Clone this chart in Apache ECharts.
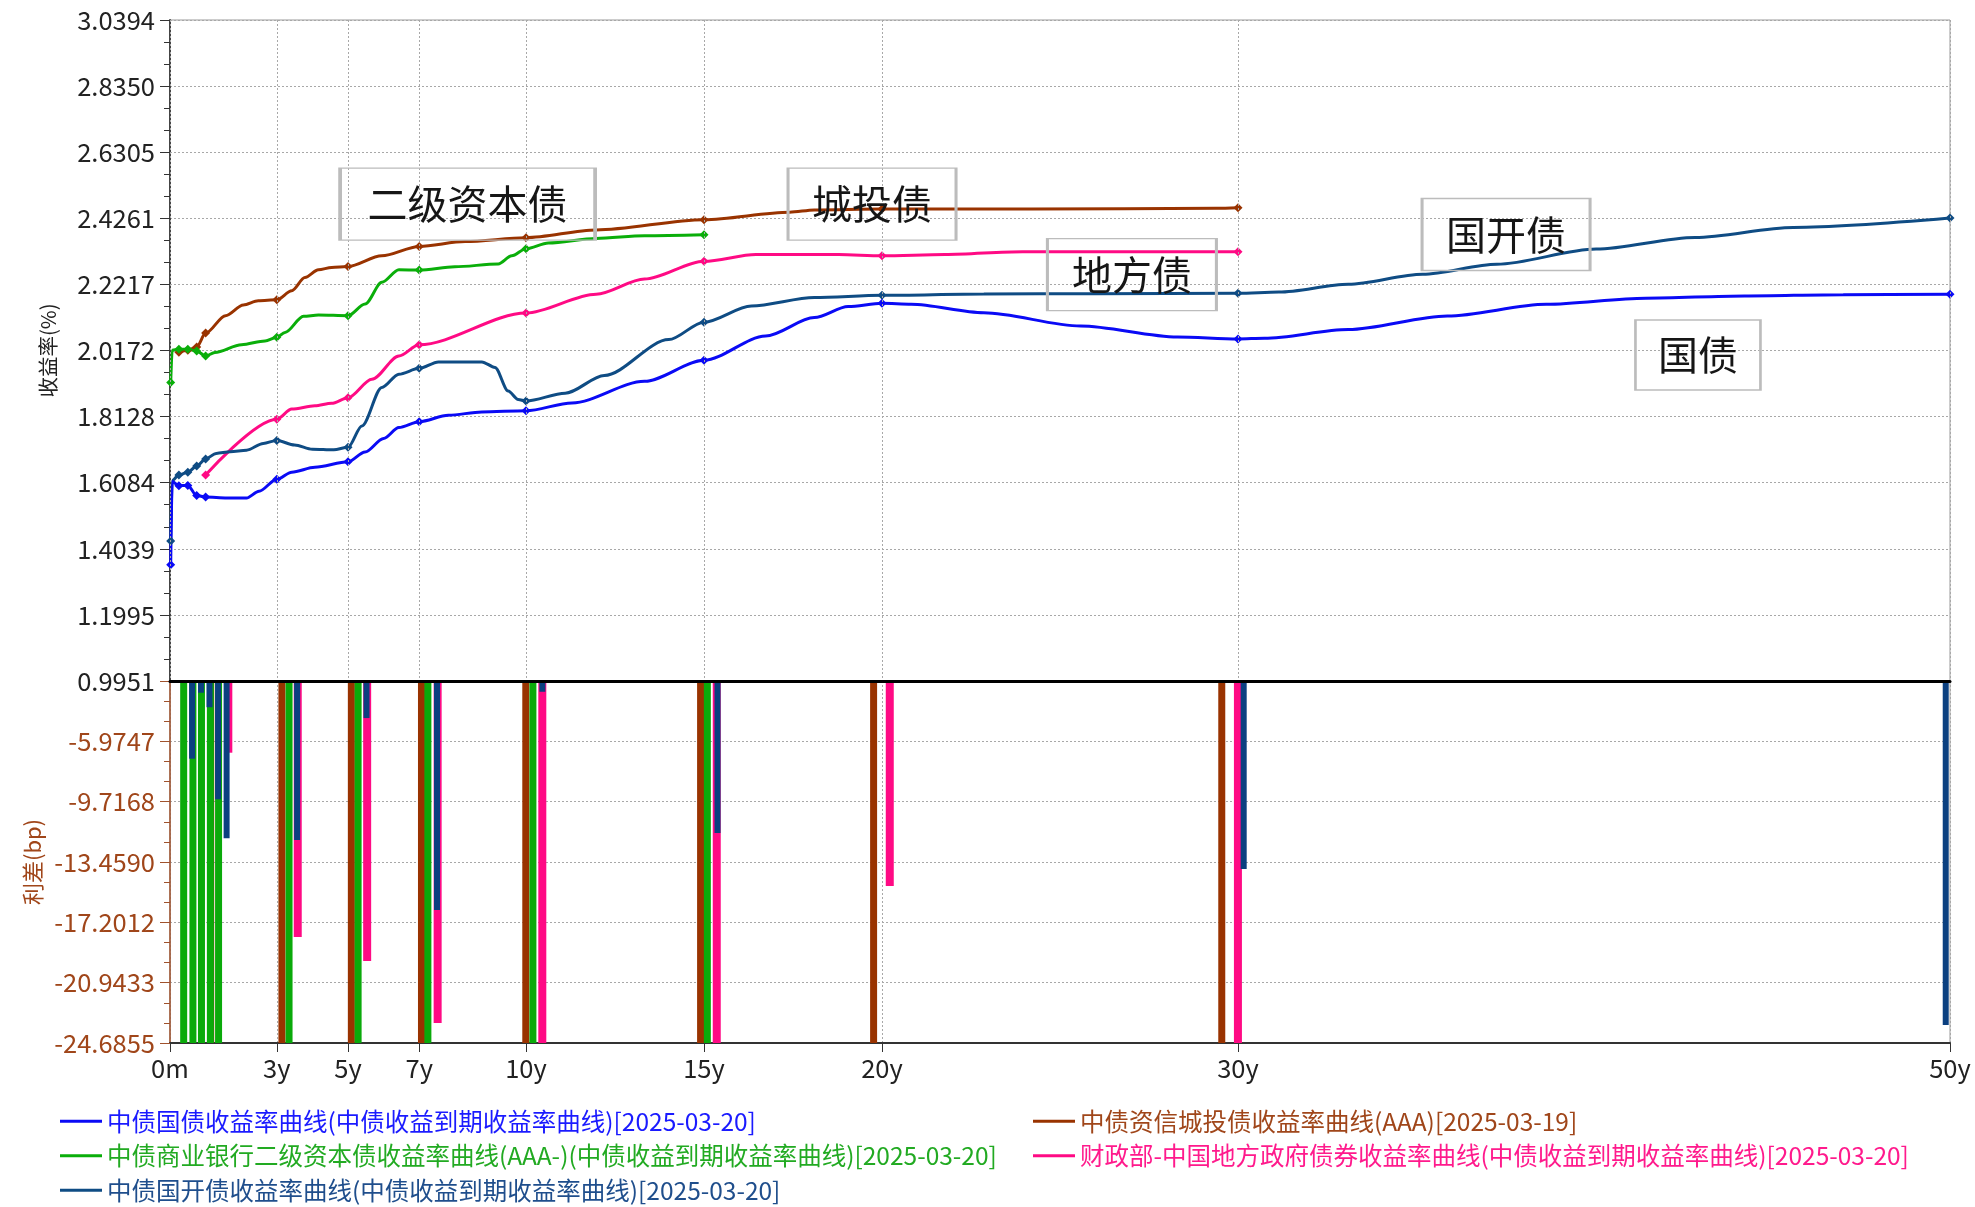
<!DOCTYPE html>
<html>
<head>
<meta charset="utf-8">
<title>收益率曲线与利差</title>
<script src="https://cdn.jsdelivr.net/npm/echarts@6/dist/echarts.min.js"></script>
<style>
  html, body { margin: 0; padding: 0; background: #fff; }
  #main { width: 1975px; height: 1207px; }
</style>
</head>
<body>
<div id="main"></div>
<script>
// 期限轴
var xTickValues = [0, 3, 5, 7, 10, 15, 20, 30, 50];
var xTickLabels = ["0m", "3y", "5y", "7y", "10y", "15y", "20y", "30y", "50y"];
// 收益率轴、利差轴刻度
var yieldTicks = [0.9951, 1.1995, 1.4039, 1.6084, 1.8128, 2.0172, 2.2217, 2.4261, 2.6305, 2.8350, 3.0394];
var spreadTicks = [-24.6855, -20.9433, -17.2012, -13.4590, -9.7168, -5.9747, -2.2326];
// 带标记点的关键期限
var keyTenors = [0.02, 0.25, 0.5, 0.75, 1, 3, 5, 7, 10, 15, 20, 30, 50];

var seriesNames = [
  "中债国债收益率曲线(中债收益到期收益率曲线)[2025-03-20]",
  "中债商业银行二级资本债收益率曲线(AAA-)(中债收益到期收益率曲线)[2025-03-20]",
  "中债国开债收益率曲线(中债收益到期收益率曲线)[2025-03-20]",
  "中债资信城投债收益率曲线(AAA)[2025-03-19]",
  "财政部-中国地方政府债券收益率曲线(中债收益到期收益率曲线)[2025-03-20]"
];

// 收益率曲线 [期限(年), 收益率]
var govYield = [[0.02, 1.355], [0.06, 1.612], [0.25, 1.599], [0.5, 1.600], [0.75, 1.569], [1, 1.564],
  [1.6, 1.561], [2.15, 1.561], [2.5, 1.582], [3, 1.619], [3.42, 1.641], [4.07, 1.656], [5, 1.673],
  [5.48, 1.703], [6.0, 1.745], [6.43, 1.779], [7, 1.797], [7.82, 1.817], [8.76, 1.827], [10, 1.831],
  [11.29, 1.855], [13.33, 1.922], [15, 1.987], [16.73, 2.062], [18.1, 2.119],
  [19.05, 2.153], [20, 2.163], [20.82, 2.160], [22.86, 2.134], [25.58, 2.093], [28.3, 2.059],
  [30, 2.053], [30.74, 2.055], [33.1, 2.082], [35.88, 2.124], [38.66, 2.160], [41.45, 2.179],
  [44.23, 2.186], [47.0, 2.190], [50, 2.191]];
var tier2Yield = [[0.02, 1.918], [0.06, 2.018], [0.25, 2.021], [0.5, 2.021], [0.75, 2.016], [1, 2.000],
  [1.26, 2.011], [2.01, 2.035], [2.67, 2.047], [3, 2.058], [3.23, 2.073], [3.75, 2.123], [4.17, 2.127],
  [5, 2.125], [5.48, 2.161], [5.95, 2.228], [6.43, 2.267], [7, 2.266], [8.0, 2.276], [9.22, 2.285],
  [9.6, 2.310], [10, 2.332], [10.63, 2.350], [11.97, 2.364], [13.33, 2.372], [15, 2.375]];
var cdbYield = [[0.02, 1.428], [0.06, 1.615], [0.25, 1.632], [0.5, 1.641], [0.75, 1.660], [1, 1.682],
  [1.3, 1.699], [1.69, 1.704], [2.15, 1.709], [2.62, 1.730], [3, 1.739], [3.5, 1.725], [4.0, 1.712],
  [4.6, 1.710], [5, 1.718], [5.39, 1.784], [5.95, 1.903], [6.43, 1.944], [7, 1.962], [7.54, 1.982],
  [8.76, 1.982], [9.13, 1.965], [9.5, 1.892], [9.78, 1.866], [10, 1.861], [11.1, 1.885], [12.2, 1.940],
  [14.01, 2.051], [15, 2.105], [16.33, 2.155], [18.1, 2.181], [20, 2.188],
  [22.86, 2.192], [26, 2.193], [30, 2.194], [31.15, 2.198], [33.1, 2.222], [35.19, 2.253],
  [37.27, 2.284], [40.06, 2.331], [42.84, 2.367], [45.6, 2.398], [50, 2.427]];
var cityYield = [[0.25, 2.012], [0.5, 2.018], [0.75, 2.028], [1, 2.071], [1.56, 2.125], [2.06, 2.158],
  [2.48, 2.171], [3, 2.174], [3.42, 2.202], [3.79, 2.243], [4.17, 2.267], [4.54, 2.274], [5, 2.277],
  [5.95, 2.310], [7, 2.339], [8.29, 2.354], [10, 2.366], [11.97, 2.390], [15, 2.422], [17.41, 2.445],
  [18.1, 2.452], [20, 2.455], [24.2, 2.455], [29.4, 2.457], [30, 2.459]];
var localYield = [[1, 1.632], [3, 1.805], [3.42, 1.836], [4.07, 1.846], [4.54, 1.854], [5, 1.871],
  [5.67, 1.928], [6.43, 2.000], [7, 2.035], [10, 2.133], [11.97, 2.191], [13.33, 2.238], [15, 2.293],
  [16.46, 2.314], [18.78, 2.314], [20, 2.310], [21.77, 2.314], [23.95, 2.323], [30, 2.323]];

// 利差柱 [期限(年), bp]
var cityBars = [[1.13, -28], [3.13, -28], [5.08, -28], [7.05, -28], [9.98, -28], [14.89, -28], [19.75, -28], [29.53, -28]];
var tier2Bars = [[0.37, -28], [0.63, -28], [0.87, -28], [1.12, -28], [1.35, -28], [3.33, -28], [5.27, -28],
  [7.23, -28], [10.18, -28], [15.08, -28]];
var localBars = [[1.61, -6.68], [3.56, -18.11], [5.51, -19.60], [7.49, -23.44], [10.43, -28], [15.33, -28],
  [20.19, -14.95], [29.97, -28]];
var cdbBars = [[0.62, -7.05], [0.87, -2.96], [1.11, -3.86], [1.35, -9.57], [1.59, -11.99], [3.57, -12.09],
  [5.52, -4.53], [7.50, -16.44], [10.46, -2.90], [15.38, -11.66], [20.2, -2.35], [30.16, -13.89], [49.88, -23.57]];

// 图中标注
var noteNames = ["二级资本债", "城投债", "地方债", "国开债", "国债"];

var colors = ["#0a0af5", "#0aae0a", "#0f4c84", "#993300", "#ff0a84"];
var legendColors = ["#1a1aff", "#22aa22", "#1f4e8c", "#a0461a", "#ff1a8c"];

function thirds(ticks) {
  var out = [];
  for (var i = 0; i < ticks.length - 1; i++) {
    var step = (ticks[i + 1] - ticks[i]) / 3;
    out.push(ticks[i] + step, ticks[i] + 2 * step);
  }
  return out;
}

function markerSize(val) {
  return keyTenors.indexOf(val[0]) >= 0 ? 9 : 0;
}

var myChart = echarts.init(document.getElementById("main"));
var font = "'Noto Sans CJK SC', 'Noto Sans', sans-serif";
var dotted = { color: "#a8a8a8", type: [2, 2], width: 1 };

function lineSeries(i, data, extra) {
  var s = {
    name: seriesNames[i],
    type: "line",
    xAxisIndex: 0,
    yAxisIndex: 0,
    data: data,
    smooth: 0.3,
    smoothMonotone: "x",
    symbol: "diamond",
    symbolSize: markerSize,
    lineStyle: { color: colors[i], width: 3 },
    itemStyle: { color: colors[i] },
    z: 3
  };
  return Object.assign(s, extra || {});
}

function barSeries(name, data, color, width) {
  return {
    name: name,
    type: "bar",
    xAxisIndex: 1,
    yAxisIndex: 2,
    data: data,
    barWidth: width,
    barGap: "-100%",
    clip: true,
    itemStyle: { color: color },
    z: 2
  };
}

function legendBlock(left, idx) {
  return {
    left: left, top: 1109, padding: 0, orient: "vertical", itemGap: 10,
    itemWidth: 42, itemHeight: 3, icon: "rect", selectedMode: false,
    textStyle: { fontSize: 24.5, lineHeight: 24, fontFamily: font },
    data: idx.map(function (i) {
      return { name: seriesNames[i], textStyle: { color: legendColors[i] } };
    })
  };
}

var noteBoxes = [
  { coord: [8.36, 2.470], size: [255, 72] },
  { coord: [19.72, 2.470], size: [168, 72] },
  { coord: [27.02, 2.252], size: [169, 72] },
  { coord: [37.53, 2.376], size: [168, 72] },
  { coord: [42.92, 2.003], size: [125, 70] }
];

var option = {
  backgroundColor: "#fff",
  animation: false,
  textStyle: { fontFamily: font },
  grid: [
    { left: 170, top: 20, width: 1780, height: 661, show: true, borderColor: "#9a9a9a", borderWidth: 1 },
    { left: 170, top: 681, width: 1780, height: 362, show: true, borderColor: "#9a9a9a", borderWidth: 1 }
  ],
  legend: [legendBlock(60, [0, 1, 2]), legendBlock(1033, [3, 4])],
  xAxis: [
    {
      type: "value", gridIndex: 0, min: 0, max: 50, z: 5,
      axisLine: { show: true, onZero: false, lineStyle: { color: "#000", width: 3 } },
      axisTick: { show: false, customValues: xTickValues },
      axisLabel: { show: false },
      splitLine: { show: true, lineStyle: dotted }
    },
    {
      type: "value", gridIndex: 1, min: 0, max: 50,
      axisLine: { show: true, onZero: false, lineStyle: { color: "#333", width: 2 } },
      axisTick: { show: true, length: 9, customValues: xTickValues, lineStyle: { color: "#333" } },
      axisLabel: {
        customValues: xTickValues, fontSize: 25.5, color: "#222", margin: 13,
        formatter: function (v) { return xTickLabels[xTickValues.indexOf(v)]; }
      },
      splitLine: { show: true, lineStyle: dotted }
    }
  ],
  yAxis: [
    {
      type: "value", gridIndex: 0, position: "left",
      min: yieldTicks[0], max: yieldTicks[yieldTicks.length - 1],
      name: "收益率(%)", nameLocation: "middle", nameGap: 112,
      nameTextStyle: { fontSize: 20.5, color: "#222" },
      axisLine: { show: true, onZero: false, lineStyle: { color: "#444", width: 2 } },
      axisTick: { show: true, length: 10, customValues: yieldTicks, lineStyle: { color: "#333" } },
      axisLabel: {
        customValues: yieldTicks, fontSize: 25.5, color: "#222", margin: 15,
        formatter: function (v) { return v.toFixed(4); }
      },
      splitLine: { show: true, lineStyle: dotted }
    },
    {
      // 次刻度
      type: "value", gridIndex: 0, position: "left",
      min: yieldTicks[0], max: yieldTicks[yieldTicks.length - 1],
      axisLine: { show: false },
      axisTick: { show: true, length: 6, customValues: thirds(yieldTicks), lineStyle: { color: "#333" } },
      axisLabel: { show: false },
      splitLine: { show: false }
    },
    {
      type: "value", gridIndex: 1, position: "left",
      min: spreadTicks[0], max: spreadTicks[spreadTicks.length - 1],
      name: "利差(bp)", nameLocation: "middle", nameGap: 112,
      nameTextStyle: { fontSize: 22, color: "#a0461a" },
      axisLine: { show: true, onZero: false, lineStyle: { color: "#a0522d", width: 1.5 } },
      axisTick: { show: true, length: 10, customValues: spreadTicks, lineStyle: { color: "#a0522d" } },
      axisLabel: {
        customValues: spreadTicks.slice(0, spreadTicks.length - 1), fontSize: 25.5, color: "#a0461a", margin: 15,
        formatter: function (v) { return v.toFixed(4); }
      },
      splitLine: { show: true, lineStyle: dotted }
    },
    {
      type: "value", gridIndex: 1, position: "left",
      min: spreadTicks[0], max: spreadTicks[spreadTicks.length - 1],
      axisLine: { show: false },
      axisTick: { show: true, length: 6, customValues: thirds(spreadTicks), lineStyle: { color: "#a0522d" } },
      axisLabel: { show: false },
      splitLine: { show: false }
    }
  ],
  series: [
    barSeries("城投债利差", cityBars, "#993300", 7),
    barSeries("二级资本债利差", tier2Bars, "#0aaa0a", 7),
    barSeries("地方债利差", localBars, "#ff0a84", 8),
    barSeries("国开债利差", cdbBars, "#0b4080", 6),
    lineSeries(4, localYield),
    lineSeries(3, cityYield),
    lineSeries(1, tier2Yield),
    lineSeries(2, cdbYield),
    lineSeries(0, govYield, {
      markPoint: {
        silent: true,
        symbol: "rect",
        itemStyle: { color: "rgba(255,255,255,0)", borderColor: "#bcbcbc", borderWidth: 2 },
        label: { show: true, position: "inside", formatter: "{b}", fontSize: 40, color: "#161616", fontFamily: font },
        data: noteBoxes.map(function (b, i) {
          return { name: noteNames[i], coord: b.coord, symbolSize: b.size };
        })
      }
    })
  ]
};

myChart.setOption(option);
window.addEventListener("resize", function () {
  myChart.resize();
});
</script>
</body>
</html>
